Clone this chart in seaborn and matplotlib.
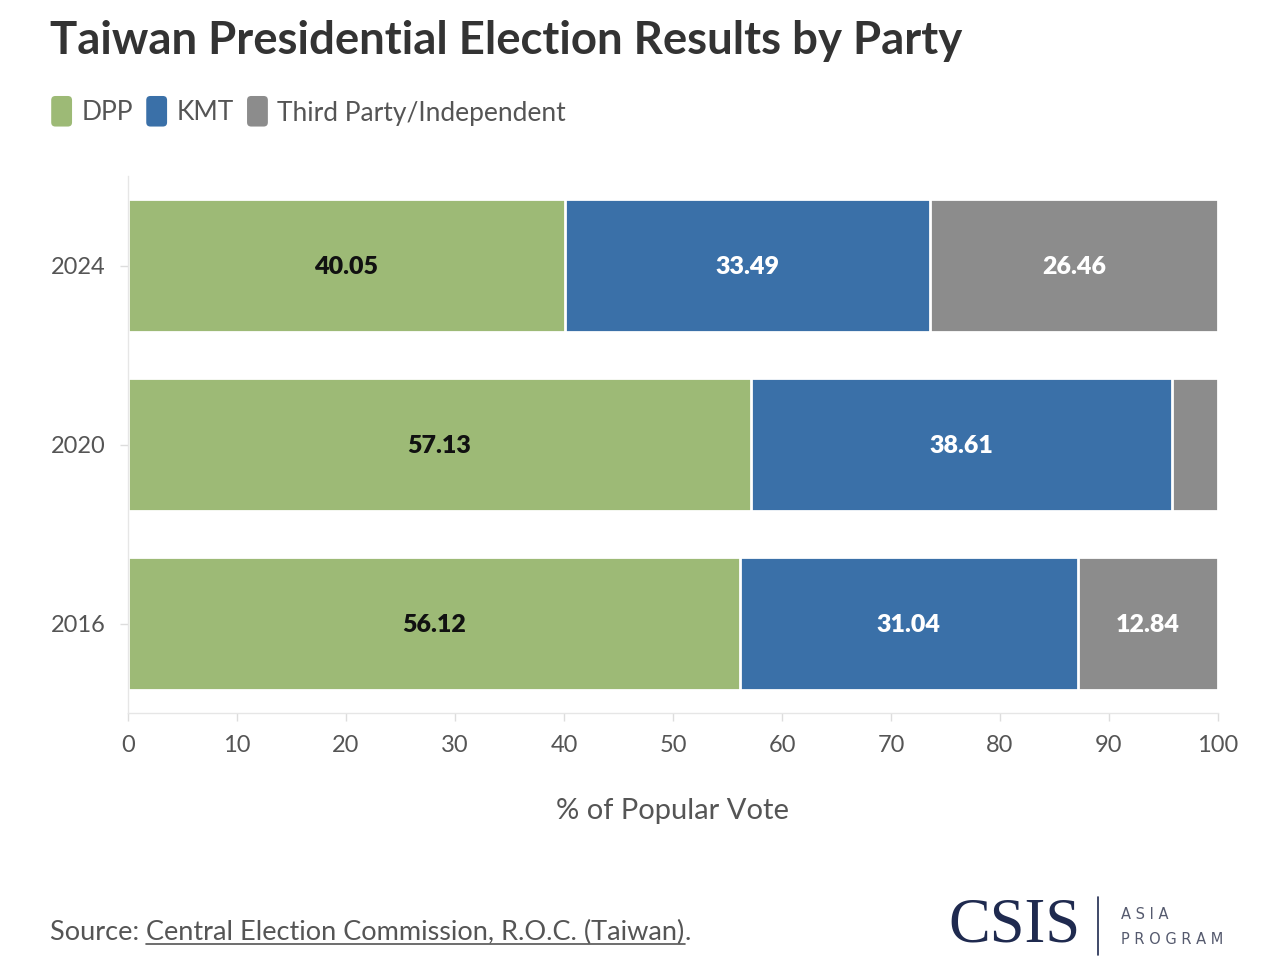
import numpy as np
import pandas as pd
import matplotlib
matplotlib.use("Agg")
import matplotlib.pyplot as plt
from matplotlib.patches import FancyBboxPatch, Patch
from matplotlib.legend_handler import HandlerPatch
from matplotlib.lines import Line2D
import seaborn as sns

years = ["2024", "2020", "2016"]
dpp = [40.05, 57.13, 56.12]
kmt = [33.49, 38.61, 31.04]
third = [26.46, 4.26, 12.84]
parties = ["DPP", "KMT", "Third Party/Independent"]
colors = ["#9dba76", "#3a70a8", "#8c8c8c"]
xticks = [0, 10, 20, 30, 40, 50, 60, 70, 80, 90, 100]

sns.set_theme(style="white")
plt.rcParams["font.family"] = ["Lato", "DejaVu Sans"]

df = pd.DataFrame({"year": years, "DPP": dpp, "KMT": kmt, "Third": third})
df["c1"] = df["DPP"]
df["c2"] = df["DPP"] + df["KMT"]
df["c3"] = df["c2"] + df["Third"]

fig = plt.figure(figsize=(12.82, 9.71), dpi=100)
ax = fig.add_axes([128/1282, 1-713/971, (1218-128)/1282, (713-176)/971])

for col, color in zip(["c3", "c2", "c1"], colors[::-1]):
    sns.barplot(data=df, x=col, y="year", order=years, color=color,
                orient="h", width=0.746, edgecolor="white", linewidth=2,
                saturation=1, ax=ax)

# value labels
for i, y in enumerate(years):
    segs = [(0, dpp[i], "#111111"), (dpp[i], kmt[i], "white"),
            (dpp[i] + kmt[i], third[i], "white")]
    for start, w, tc in segs:
        if w >= 8:
            ax.text(start + w/2, i + 0.01, f"{w:.2f}", ha="center", va="center",
                    fontsize=18, fontweight="heavy", color=tc)

ax.set_xlim(0, 100)
ax.set_ylim(2.5, -0.5)
ax.set_xticks(xticks)
ax.set_xticklabels([str(t) for t in xticks])
ax.set_ylabel("")
ax.set_xlabel("% of Popular Vote", fontsize=21, color="#555555", labelpad=30)
ax.tick_params(axis="x", colors="#555555", labelsize=17, length=6,
               width=1, pad=10, color="#dddddd", bottom=True)
ax.tick_params(axis="y", colors="#555555", labelsize=17, length=6,
               width=1, pad=10, color="#dddddd", left=True)
for s in ["top", "right"]:
    ax.spines[s].set_visible(False)
for s in ["left", "bottom"]:
    ax.spines[s].set_color("#e6e6e6")
    ax.spines[s].set_linewidth(1)
ax.grid(False)

# title
fig.text(50/1282, 1-41/971, "Taiwan Presidential Election Results by Party",
         fontsize=32.8, fontweight="bold", color="#333333", ha="left", va="center")

# legend with rounded swatches
class RoundHandler(HandlerPatch):
    def create_artists(self, legend, orig_handle, xdescent, ydescent,
                       width, height, fontsize, trans):
        w = 15
        h = 22
        x0 = -xdescent + (width - w) / 2
        y0 = -ydescent + (height - h) / 2
        p = FancyBboxPatch((x0 + 3, y0 + 3), w - 6, h - 6,
                           boxstyle="round,pad=3",
                           facecolor=orig_handle.get_facecolor(),
                           edgecolor="none", transform=trans)
        return [p]

handles = [Patch(facecolor=c) for c in colors]
fig.legend(handles, parties, loc="center left",
           bbox_to_anchor=(26/1282, 1-113/971), ncol=3, frameon=False,
           fontsize=19, handletextpad=0.3, columnspacing=0.45,
           handlelength=0.9, labelcolor="#555555",
           handler_map={Patch: RoundHandler()})

# source with underline
fig.canvas.draw()
renderer = fig.canvas.get_renderer()
sy = 1-932/971
t1 = fig.text(50/1282, sy, "Source: ", fontsize=19.5, color="#555555",
              ha="left", va="center")
bb = t1.get_window_extent(renderer)
x2 = bb.x1 / fig.bbox.width
t2 = fig.text(x2, sy, "Central Election Commission, R.O.C. (Taiwan)",
              fontsize=19.5, color="#555555", ha="left", va="center")
bb2 = t2.get_window_extent(renderer)
x3 = bb2.x1 / fig.bbox.width
fig.text(x3, sy, ".", fontsize=19.5, color="#555555", ha="left", va="center")
uy = (bb2.y0 + 1) / fig.bbox.height
fig.add_artist(Line2D([x2, x3], [uy, uy], color="#555555", linewidth=1.2,
                      transform=fig.transFigure))

# logo
fig.text(948/1282, 1-926/971, "CSIS", fontsize=45, family="Liberation Serif",
         color="#1f2a4f", ha="left", va="center")
fig.add_artist(Line2D([1098/1282, 1098/1282], [1-897/971, 1-955/971],
                      color="#1f2a4f", linewidth=1.2, transform=fig.transFigure))
fig.text(1121/1282, 1-914/971, "A S I A", fontsize=10.5, color="#555a6e",
         ha="left", va="center", family="DejaVu Sans")
fig.text(1121/1282, 1-939/971, "P R O G R A M", fontsize=10.5, color="#555a6e",
         ha="left", va="center", family="DejaVu Sans")

fig.savefig("out.png", dpi=100)
